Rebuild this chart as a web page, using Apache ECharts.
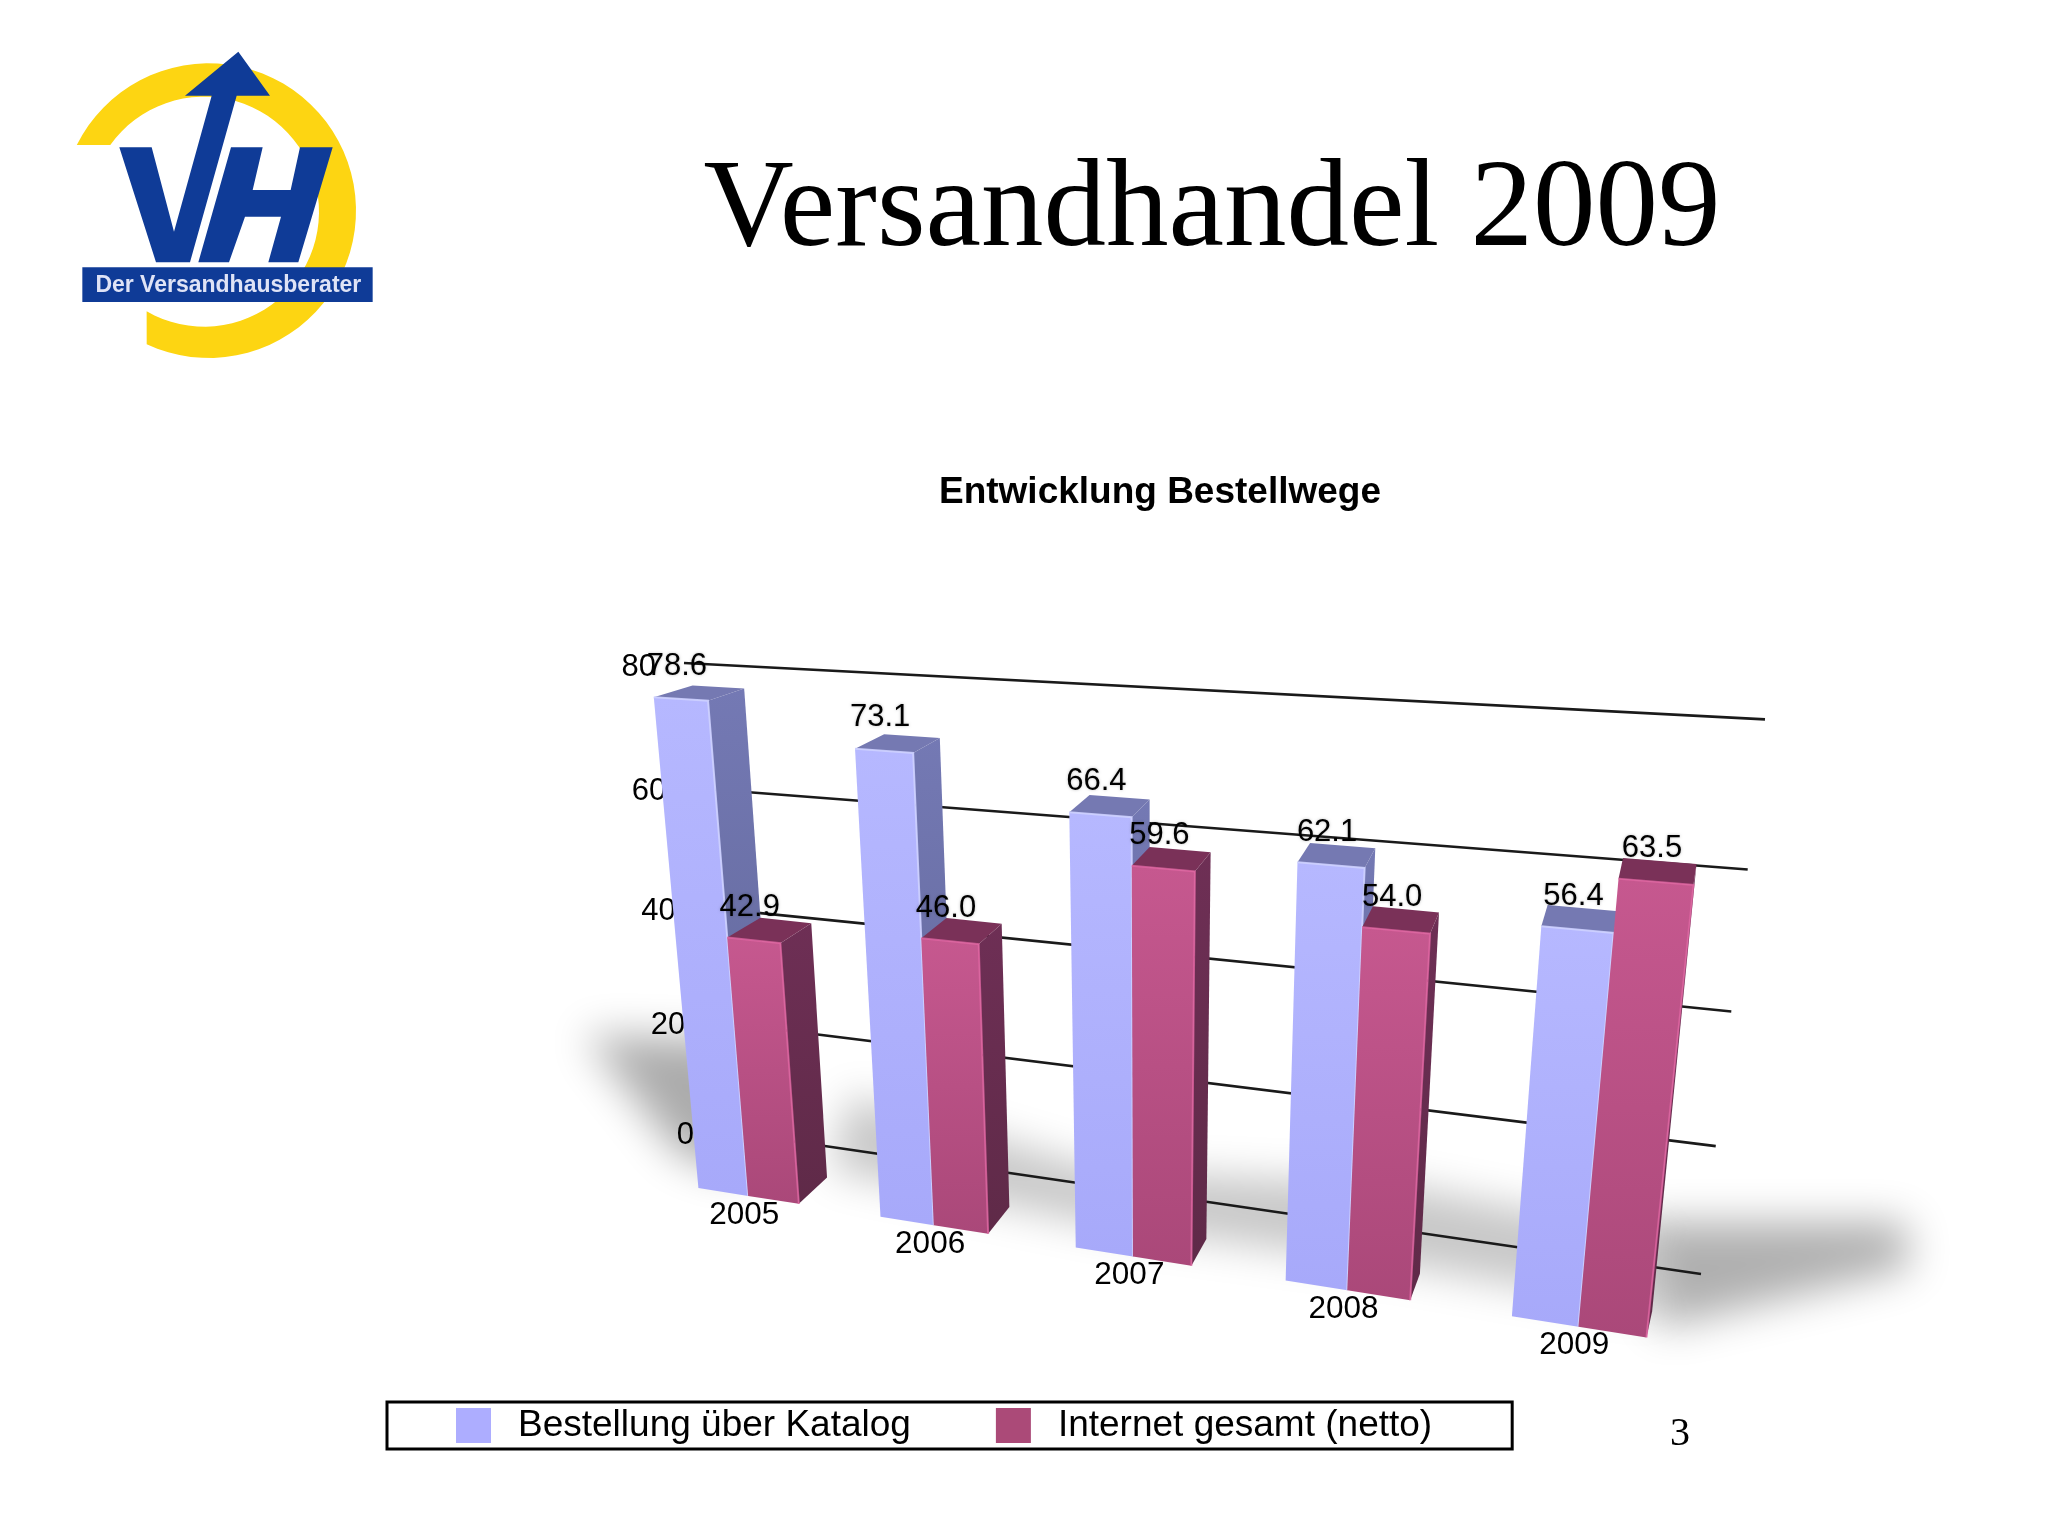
<!DOCTYPE html>
<html>
<head>
<meta charset="utf-8">
<style>html,body{margin:0;padding:0;background:#fff}#c{width:2048px;height:1536px}</style>
<script src="https://cdn.jsdelivr.net/npm/echarts@6/dist/echarts.min.js"></script>
</head>
<body>
<div id="c"></div>
<script>
// ---- data ----
const years = ['2005', '2006', '2007', '2008', '2009'];
const katalog = [78.6, 73.1, 66.4, 62.1, 56.4];
const internet = [42.9, 46.0, 59.6, 54.0, 63.5];
const yTicks = [0, 20, 40, 60, 80];
const seriesNames = ['Bestellung über Katalog', 'Internet gesamt (netto)'];
const chartTitle = 'Versandhandel 2009';
const chartSubtitle = 'Entwicklung Bestellwege';
const pageNumber = '3';
const logoText = 'Der Versandhausberater';

// ---- perspective planes: unit square -> page quad (BL, BR, TR, TL) ----
function homography(q) {
  const [p0, p1, p2, p3] = q;
  const dx1 = p1[0] - p2[0], dx2 = p3[0] - p2[0], dx3 = p0[0] - p1[0] + p2[0] - p3[0];
  const dy1 = p1[1] - p2[1], dy2 = p3[1] - p2[1], dy3 = p0[1] - p1[1] + p2[1] - p3[1];
  const det = dx1 * dy2 - dx2 * dy1;
  const g = (dx3 * dy2 - dx2 * dy3) / det, h = (dx1 * dy3 - dx3 * dy1) / det;
  const a = p1[0] - p0[0] + g * p1[0], b = p3[0] - p0[0] + h * p3[0], c = p0[0];
  const d = p1[1] - p0[1] + g * p1[1], e = p3[1] - p0[1] + h * p3[1], f = p0[1];
  return (u, v) => {
    const w = g * u + h * v + 1;
    return [(a * u + b * v + c) / w, (d * u + e * v + f) / w];
  };
}
const wall = homography([[722, 1131], [1701, 1274], [1765, 719.4], [684, 663]]);
const front = homography([[660, 1182], [1701, 1346], [1769, 757], [611, 685]]);
const back = homography([[694, 1156], [1706, 1320], [1770, 738], [652, 674]]);

const GRID = {left: 100, top: 100, width: 1000, height: 800};
const toU = px => (px - GRID.left) / GRID.width;
const toV = py => (GRID.top + GRID.height - py) / GRID.height;
const FONT = '"Liberation Sans", Arial, sans-serif';
const SERIF = '"Liberation Serif", "Times New Roman", serif';

const GROUP_GAP = 0.22, BAR_W = 0.28;

const vgrad = (c0, c1) => ({type: 'linear', x: 0, y: 0, x2: 0, y2: 1, colorStops: [{offset: 0, color: c0}, {offset: 1, color: c1}]});

function barRenderer(slot, pal) {
  return function (params, api) {
    const idx = api.value(0);
    const center = api.coord([idx, 0]);
    const band = api.size([1, 0])[0];
    const l = center[0] - band / 2 + band * (GROUP_GAP + slot * BAR_W);
    const r = l + band * BAR_W;
    const u0 = toU(l), u1 = toU(r);
    const v0 = toV(api.coord([0, 0])[1]), v1 = toV(api.coord([0, api.value(1)])[1]);
    const fBL = front(u0, v0), fBR = front(u1, v0), fTR = front(u1, v1), fTL = front(u0, v1);
    const bBR = back(u1, v0), bTR = back(u1, v1), bTL = back(u0, v1);
    const children = [
      {type: 'polygon', shape: {points: [fBR, bBR, bTR, fTR]}, style: {fill: vgrad(pal.side0, pal.side1)}},
      {type: 'polygon', shape: {points: [fTL, fTR, bTR, bTL]}, style: {fill: pal.top}},
      {type: 'polygon', shape: {points: [fBL, fBR, fTR, fTL]}, style: {fill: vgrad(pal.front0, pal.front1)}},
      {type: 'polyline', shape: {points: [fTL, fTR, fBR]}, style: {fill: 'none', stroke: pal.edge, lineWidth: 2}},
      {type: 'text', z2: 100, x: (fTL[0] + fTR[0]) / 2 - 4, y: (fTL[1] + fTR[1]) / 2 - 33,
        style: {text: api.value(1).toFixed(1), font: '31px ' + FONT, fill: '#000', align: 'center', verticalAlign: 'middle',
          textShadowColor: 'rgba(0,0,0,.25)', textShadowBlur: 3}}
    ];
    if (slot === 0) {
      children.push({type: 'text', z2: 100, x: (fBL[0] + fBR[0]) / 2 + 21 + 2 * idx, y: fBL[1] + 27 + 0.5 * idx,
        style: {text: years[idx], font: '31.5px ' + FONT, fill: '#000', align: 'center', verticalAlign: 'middle'}});
    }
    return {type: 'group', children};
  };
}

function tickRenderer(params, api) {
  const val = api.value(0);
  const v = toV(api.coord([0, val])[1]);
  const a = wall(0, v), b = wall(1, v);
  return {
    type: 'group',
    children: [
      {type: 'line', shape: {x1: a[0], y1: a[1], x2: b[0], y2: b[1]}, style: {stroke: '#1a1a1a', lineWidth: 2.6}},
      {type: 'text', z2: 100, x: a[0] - 28, y: a[1] + 4,
        style: {text: String(val), font: '31px ' + FONT, fill: '#000', align: 'right', verticalAlign: 'middle'}}
    ]
  };
}

// ---- logo helpers (page position = 50 + zx/3, 30 + zy/3) ----
const LP = pts => pts.map(p => [50 + p[0] / 3, 30 + p[1] / 3]);
function ring() {
  const out = [], inn = [];
  const OA0 = Math.PI + 0.462, OA1 = Math.PI * 2 + 2.005;
  const IA0 = Math.PI + 0.618, IA1 = Math.PI * 2 + 2.093;
  for (let k = 0; k <= 60; k++) {
    const t = OA0 + (OA1 - OA0) * k / 60, s = IA0 + (IA1 - IA0) * k / 60;
    out.push([476 + 442 * Math.cos(t), 542 + 442 * Math.sin(t)]);
    inn.unshift([462 + 345 * Math.cos(s), 545 + 345 * Math.sin(s)]);
  }
  return LP(out.concat(inn));
}
const BLUE = '#0f3b97';
const logo = [
  {type: 'polygon', z: 1, shape: {points: ring()}, style: {fill: '#fdd512'}},
  {type: 'polygon', z: 1, shape: {points: LP([[208,352],[305,352],[372,605],[485,197],[405,197],[565,65],[660,197],[560,197],[420,697],[318,697]])}, style: {fill: BLUE}},
  {type: 'polygon', z: 1, shape: {points: LP([[543,352],[638,352],[608,480],[722,480],[750,352],[848,352],[745,697],[655,697],[693,560],[585,560],[537,697],[445,697]])}, style: {fill: BLUE}},
  {type: 'rect', z: 1, shape: {x: 50 + 97 / 3, y: 30 + 712 / 3, width: 871 / 3, height: 104 / 3}, style: {fill: BLUE}},
  {type: 'text', z: 1, x: 50 + 535 / 3, y: 30 + 768 / 3,
    style: {text: logoText, font: 'bold 23px ' + FONT, fill: '#dfe3f6', align: 'center', verticalAlign: 'middle'}}
];

// floor shadows: only the blurred shadow of each off-page polygon reaches the page
const OFF = 3000;
const blob = (points, grey, blur) => ({
  type: 'polygon', z: 0, x: -OFF, shape: {points},
  style: {fill: '#000', shadowColor: `rgb(${grey},${grey},${grey})`, shadowBlur: blur, shadowOffsetX: OFF}
});
const floorShadow = [
  blob([[850,1095],[1100,1170],[1400,1185],[1660,1235],[1660,1310],[1400,1265],[1100,1225],[830,1170]], 200, 40),
  blob([[585,1035],[730,1040],[745,1175],[680,1155]], 172, 42),
  blob([[1640,1222],[1905,1222],[1910,1268],[1660,1328]], 176, 42)
];

const option = {
  animation: false,
  backgroundColor: '#fff',
  title: [
    {text: chartTitle, left: 1207, top: 145, textAlign: 'center', textStyle: {fontFamily: SERIF, fontSize: 125, fontWeight: 'normal', color: '#000'}},
    {text: chartSubtitle, left: 1155, top: 469, textAlign: 'center', textStyle: {fontFamily: FONT, fontSize: 37, fontWeight: 'bold', color: '#000'}},
    {text: pageNumber, left: 1675, top: 1409, textAlign: 'center', textStyle: {fontFamily: SERIF, fontSize: 40, fontWeight: 'normal', color: '#000'}}
  ],
  legend: {
    data: seriesNames,
    left: 387, top: 1402,
    padding: [5, 80, 5, 69],
    itemGap: 85, itemWidth: 35, itemHeight: 35,
    icon: 'rect',
    borderColor: '#000', borderWidth: 3,
    textStyle: {fontFamily: FONT, fontSize: 37, color: '#000', padding: [2, 0, 0, 22]},
    selectedMode: false
  },
  grid: Object.assign({containLabel: false}, GRID),
  xAxis: {type: 'category', data: years, show: false},
  yAxis: {type: 'value', min: 0, max: 80, interval: 20, show: false},
  graphic: {elements: floorShadow.concat(logo)},
  series: [
    {type: 'custom', name: 'Achse', silent: true, z: 1, clip: false, coordinateSystem: 'cartesian2d',
      data: yTicks.map(t => [t]), encode: {y: 0}, renderItem: tickRenderer},
    {type: 'custom', name: seriesNames[0], silent: true, clip: false, coordinateSystem: 'cartesian2d',
      itemStyle: {color: '#adadff'},
      data: katalog.map((v, i) => [i, v]), encode: {x: 0, y: 1},
      renderItem: barRenderer(0, {front0: '#b6b8ff', front1: '#a7a9fa', side0: '#7479b4', side1: '#5f6596', top: '#7579b2', edge: 'rgba(205,208,255,.9)'})},
    {type: 'custom', name: seriesNames[1], silent: true, clip: false, coordinateSystem: 'cartesian2d',
      itemStyle: {color: '#ab4a78'},
      data: internet.map((v, i) => [i, v]), encode: {x: 0, y: 1},
      renderItem: barRenderer(1, {front0: '#c6588f', front1: '#aa4879', side0: '#6e2f55', side1: '#5f2a48', top: '#7a3158', edge: 'rgba(222,100,160,.8)'})}
  ]
};
const chart = echarts.init(document.getElementById('c'), null, {renderer: 'canvas', width: 2048, height: 1536});
chart.setOption(option);
</script>
</body>
</html>
